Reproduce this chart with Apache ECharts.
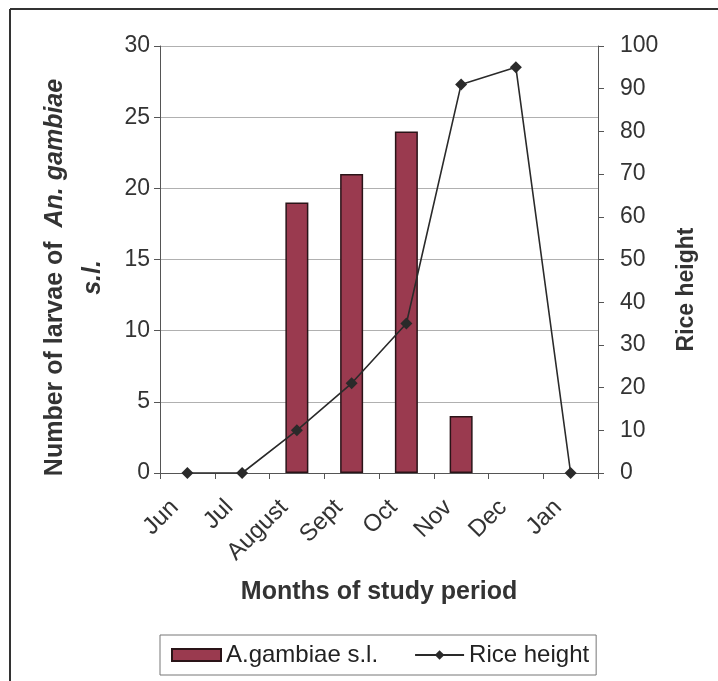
<!DOCTYPE html>
<html>
<head>
<meta charset="utf-8">
<script src="https://cdn.jsdelivr.net/npm/echarts@6/dist/echarts.min.js"></script>
<style>html,body{margin:0;padding:0;background:#fff}#c{width:718px;height:681px}</style>
</head>
<body>
<div id="c"></div>
<script>
const months = ['Jun', 'Jul', 'August', 'Sept', 'Oct', 'Nov', 'Dec', 'Jan'];
const larvae = [null, null, 19, 21, 24, 4, null, null];
const riceHeight = [0, 0, 10, 21, 35, 91, 95, 0];
const leftTicks = {min: 0, max: 30, interval: 5};
const rightTicks = {min: 0, max: 100, interval: 10};

const FONT = '"Liberation Sans", Arial, sans-serif';
const chart = echarts.init(document.getElementById('c'), null, {renderer: 'canvas'});
chart.setOption({
  backgroundColor: '#fff',
  animation: false,
  textStyle: {fontFamily: FONT},
  graphic: [
    {type: 'line', shape: {x1: 10, y1: 9, x2: 718, y2: 9}, style: {stroke: '#333', lineWidth: 2}},
    {type: 'line', shape: {x1: 10, y1: 9, x2: 10, y2: 681}, style: {stroke: '#333', lineWidth: 2}}
  ],
  grid: {left: 160, right: 120, top: 46, bottom: 208, containLabel: false},
  legend: {
    left: 160, top: 635,
    padding: [8, 7, 8, 11],
    itemGap: 36,
    itemWidth: 49, itemHeight: 12,
    borderColor: '#777', borderWidth: 1,
    textStyle: {fontSize: 24, color: '#222', fontFamily: FONT},
    data: [{name: 'A.gambiae s.l.', icon: 'rect'}, {name: 'Rice height'}]
  },
  xAxis: {
    type: 'category',
    data: months,
    boundaryGap: true,
    axisLine: {lineStyle: {color: '#555', width: 1}},
    axisTick: {show: true, length: 6, lineStyle: {color: '#555'}},
    axisLabel: {rotate: 45, fontSize: 24, color: '#333', margin: 18, padding: [0, 18, 0, 0], fontFamily: FONT},
    name: 'Months of study period',
    nameLocation: 'middle',
    nameGap: 107,
    nameTextStyle: {fontSize: 25, fontWeight: 'bold', color: '#333', fontFamily: FONT}
  },
  yAxis: [
    {
      type: 'value', min: leftTicks.min, max: leftTicks.max, interval: leftTicks.interval,
      position: 'left',
      axisLine: {show: true, lineStyle: {color: '#555'}},
      axisTick: {show: true, length: 6, lineStyle: {color: '#555'}},
      axisLabel: {fontSize: 23, color: '#333', margin: 10, fontFamily: FONT},
      splitLine: {show: true, lineStyle: {color: '#b0b0b0', width: 1}},
      name: 'Number of larvae of  {i|An. gambiae}\n{i|s.l.}',
      nameLocation: 'middle',
      nameGap: 48,
      nameRotate: 90,
      nameTextStyle: {
        fontSize: 25, fontWeight: 'bold', color: '#333', lineHeight: 38, fontFamily: FONT,
        padding: [0, 36, 0, 0],
        rich: {i: {fontSize: 25, fontWeight: 'bold', fontStyle: 'italic', color: '#333', lineHeight: 38, fontFamily: FONT}}
      }
    },
    {
      type: 'value', min: rightTicks.min, max: rightTicks.max, interval: rightTicks.interval,
      position: 'right',
      axisLine: {show: true, lineStyle: {color: '#555'}},
      axisTick: {show: true, length: 6, lineStyle: {color: '#555'}},
      axisLabel: {fontSize: 23, color: '#333', margin: 22, fontFamily: FONT},
      splitLine: {show: false},
      name: 'Rice height',
      nameLocation: 'middle',
      nameGap: 77,
      nameRotate: 90,
      nameTextStyle: {fontSize: 23, fontWeight: 'bold', color: '#333', fontFamily: FONT, padding: [0, 60, 0, 0]}
    }
  ],
  series: [
    {
      name: 'A.gambiae s.l.',
      type: 'bar',
      yAxisIndex: 0,
      data: larvae,
      barWidth: 23,
      itemStyle: {color: '#9a3a4f', borderColor: '#2a1418', borderWidth: 1.5}
    },
    {
      name: 'Rice height',
      type: 'line',
      yAxisIndex: 1,
      data: riceHeight,
      symbol: 'diamond',
      symbolSize: 12,
      lineStyle: {color: '#2a2a2a', width: 1.6},
      itemStyle: {color: '#2a2a2a'}
    }
  ]
});
</script>
</body>
</html>
